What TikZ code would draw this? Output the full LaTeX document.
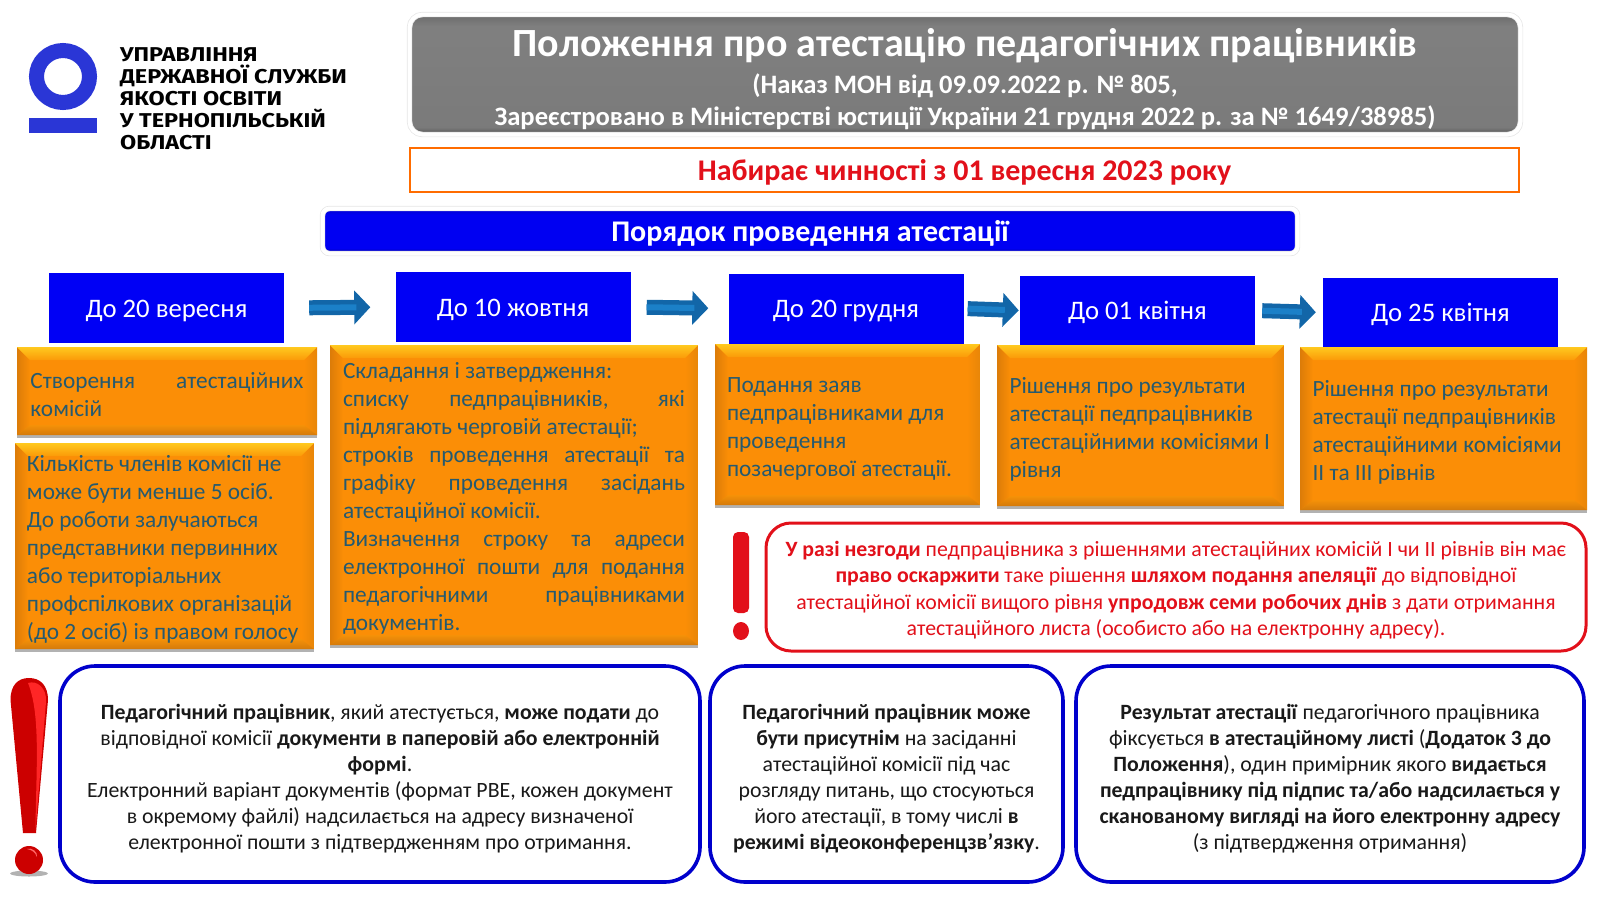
\documentclass[tikz,border=0pt]{standalone}
\usepackage{fontspec}
\setmainfont{Carlito}
\newfontfamily\logofont[FakeStretch=1.17]{Fira Sans}
\usetikzlibrary{calc, shadows, arrows.meta}
\definecolor{logoblue}{HTML}{2A36D6}
\definecolor{pureblue}{HTML}{0000F5}
\definecolor{flowblue}{HTML}{1266A8}
\definecolor{flowlight}{HTML}{1B80C8}
\definecolor{boxorange}{HTML}{FB8E06}
\definecolor{boxtext}{HTML}{255A70}
\definecolor{bevelyellow}{HTML}{FFC91F}
\definecolor{beveltop}{HTML}{FB9A08}
\definecolor{bevelleft}{HTML}{DC7C08}
\definecolor{bevelright}{HTML}{E88608}
\definecolor{bevellow}{HTML}{D47A0A}
\definecolor{bevelup}{HTML}{F59108}
\definecolor{alertred}{HTML}{E2101A}
\definecolor{noticeblue}{HTML}{0000CC}
\definecolor{bangred}{HTML}{CC0000}
\pgfdeclareverticalshading{greyplate}{100bp}{color(0bp)=(black!68); color(25bp)=(black!68); color(28bp)=(black!52); color(70bp)=(black!50); color(75bp)=(black!58); color(100bp)=(black!58)}
\pgfdeclareverticalshading{blueplate}{100bp}{color(0bp)=(blue!60!black); color(25bp)=(blue!60!black); color(31bp)=(blue!95!black); color(68bp)=(blue!95!black); color(75bp)=(blue!80!black); color(100bp)=(blue!80!black)}
\tikzset{
	titleplate/.style={
			rectangle,
			rounded corners=13pt,
			shade,
			shading=greyplate,
			draw=black!10,
			line width=0.7pt,
			double=white,
			double distance=4pt,
			text=white,
			align=center,
			inner sep=0pt,
			minimum width=1111pt,
			minimum height=120pt,
			font=\fontsize{26.6}{32}\bfseries\selectfont
		},
	bannerplate/.style={
			rectangle,
			draw=orange!85!red,
			line width=1.3pt,
			fill=white,
			text=alertred,
			inner sep=0pt,
			minimum width=1109pt,
			minimum height=44pt,
			text height=20pt,
			text depth=0pt,
			font=\fontsize{30}{34}\bfseries\selectfont
		},
	orderplate/.style={
			titleplate,
			rounded corners=7pt,
			shading=blueplate,
			minimum width=975pt,
			minimum height=45pt,
			text height=20pt,
			text depth=0pt,
			font=\fontsize{30}{34}\bfseries\selectfont
		},
	datebox/.style={
			rectangle,
			fill=pureblue,
			text=white,
			inner sep=0pt,
			minimum width=235pt,
			minimum height=70pt,
			text height=18pt,
			text depth=0pt,
			font=\fontsize{26.7}{30}\selectfont
		},
	orangebox/.style={
			rectangle,
			fill=boxorange,
			text=boxtext,
			align=left,
			inner sep=0pt,
			font=\fontsize{23.3}{28}\selectfont,
			execute at begin node={\spaceskip 0pt\xspaceskip 0pt\rule{0pt}{23.5pt}},
			drop shadow={shadow xshift=0pt, shadow yshift=-3pt, opacity=.3, fill=black},
			path picture={
				\coordinate (nw) at (path picture bounding box.north west);
				\coordinate (ne) at (path picture bounding box.north east);
				\coordinate (sw) at (path picture bounding box.south west);
				\coordinate (se) at (path picture bounding box.south east);
				\shade[left color=bevelleft, right color=boxorange] (nw) -- ++(13pt,-13pt) -- ($(sw)+(13pt,10pt)$) -- (sw) -- cycle;
				\shade[left color=boxorange, right color=bevelright] (ne) -- ++(-13pt,-13pt) -- ($(se)+(-13pt,10pt)$) -- (se) -- cycle;
				\shade[top color=bevelup, bottom color=bevellow] (sw) -- ++(13pt,10pt) -- ($(se)+(-13pt,10pt)$) -- (se) -- cycle;
				\shade[top color=bevelyellow, bottom color=beveltop] (nw) -- ++(13pt,-13pt) -- ($(ne)+(-13pt,-13pt)$) -- (ne) -- cycle;
			}
		},
	roundbox/.style={
			rectangle,
			fill=white,
			align=center,
			inner sep=0pt
		},
	noticebox/.style={
			roundbox,
			rounded corners=35pt,
			draw=noticeblue,
			line width=3.6pt,
			text=black!90,
			execute at begin node={\spaceskip 0.226em\xspaceskip 0pt\rule{0pt}{24.5pt}},
			font=\fontsize{21.8}{25.9}\selectfont
		},
	alertbox/.style={
			roundbox,
			rounded corners=25pt,
			draw=alertred,
			line width=3pt,
			text=alertred,
			execute at begin node={\spaceskip 0.226em\xspaceskip 0pt\rule{0pt}{21.5pt}},
			font=\fontsize{21.8}{26.2}\selectfont
		},
	logotext/.style={
			align=left,
			inner sep=0pt,
			font=\logofont\bfseries\fontsize{20}{22}\selectfont
		},
	flowarrow/.style 2 args={
			draw=flowblue,
			line width=15pt,
			-{Triangle[length=16pt,width=33pt]},
			shorten <=#1,
			shorten >=#2,
			postaction={draw=flowlight, line width=6pt, -, shorten >=#2+14pt}
		}
}
\newcommand{\jline}[1]{\makebox[\hsize][s]{#1}\\}

\begin{document}
\begin{tikzpicture}[x=1pt, y=-1pt]
	\useasboundingbox (0,0) rectangle (1600,900);

	% logo
	\draw[logoblue, line width=15pt] (63,76.5) ellipse (26.5pt and 26pt);
	\fill[logoblue] (29,118) rectangle (97,133);
	\node[logotext, anchor=north west] at (120,47) (logo) {УПРАВЛІННЯ\\ДЕРЖАВНОЇ СЛУЖБИ\\ЯКОСТІ ОСВІТИ\\У ТЕРНОПІЛЬСЬКІЙ\\ОБЛАСТІ};

	% header
	\node[titleplate, text width=1100pt, execute at begin node={\spaceskip 0.226em\xspaceskip 0pt\rule{0pt}{38pt}}] at (965,74.5) (title) {{\fontsize{40}{42}\selectfont\spaceskip 0.226em\relax Положення про атестацію педагогічних працівників}\\[5pt]
		(Наказ МОН від 09.09.2022 р. № 805,\\
		Зареєстровано в Міністерстві юстиції України 21 грудня 2022 р. за № 1649/38985)};
	\node[bannerplate] at (964.5,170) (banner) {Набирає чинності з 01 вересня 2023 року};
	\node[orderplate] at (810,231) (order) {Порядок проведення атестації};

	% dates
	\node[datebox] at (166.5,308) (date1) {До 20 вересня};
	\node[datebox] at (513,307) (date2) {До 10 жовтня};
	\node[datebox] at (846,308.5) (date3) {До 20 грудня};
	\node[datebox] at (1137.5,310.5) (date4) {До 01 квітня};
	\node[datebox] at (1440.5,312.5) (date5) {До 25 квітня};
	\draw[flowarrow={25pt}{25pt}] (date1.east) -- (date2.west);
	\draw[flowarrow={16pt}{20pt}] (date2.east) -- (date3.west);
	\draw[flowarrow={4pt}{1pt}] (date3.east) -- (date4.west);
	\draw[flowarrow={7pt}{7pt}] (date4.east) -- (date5.west);

	% steps
	\node[orangebox, minimum width=300pt, minimum height=88pt, text width=273pt] at (167,391) (commission) {\jline{Створення атестаційних}комісій};
	\node[orangebox, minimum width=299pt, minimum height=206pt, text width=275pt] at (164.5,546) (members) {Кількість членів комісії не\\може бути менше 5 осіб.\\До роботи залучаються\\представники первинних\\або територіальних\\профспілкових організацій\\(до 2 осіб) із правом голосу};
	\node[orangebox, minimum width=368pt, minimum height=300pt, text width=342pt] at (514,495) (lists) {Складання і затвердження:\\\jline{списку педпрацівників, які}підлягають черговій атестації;\\\jline{строків проведення атестації та}\jline{графіку проведення засідань}атестаційної комісії.\\\jline{Визначення строку та адреси}\jline{електронної пошти для подання}\jline{педагогічними працівниками}документів.};
	\node[orangebox, minimum width=265pt, minimum height=161pt, text width=241pt] at (847.5,424.5) (claims) {Подання заяв\\педпрацівниками для\\проведення\\позачергової атестації.};
	\node[orangebox, minimum width=287pt, minimum height=161pt, text width=262pt] at (1140.5,425.5) (firstlevel) {Рішення про результати\\атестації педпрацівників\\атестаційними комісіями І\\рівня};
	\node[orangebox, minimum width=287pt, minimum height=163pt, text width=262pt] at (1443.5,428.5) (upperlevel) {Рішення про результати\\атестації педпрацівників\\атестаційними комісіями\\ІІ та ІІІ рівнів};

	% appeal
	\fill[alertred, rounded corners=5pt] (733,532) rectangle (749,613);
	\fill[alertred] (741,631) ellipse (8pt and 9pt);
	\node[alertbox, minimum width=820pt, minimum height=128pt, text width=810pt] at (1176,587) (appeal) {\textbf{У разі незгоди} педпрацівника з рішеннями атестаційних комісій І чи ІІ рівнів він має\\\textbf{право оскаржити} таке рішення \textbf{шляхом подання апеляції} до відповідної\\атестаційної комісії вищого рівня \textbf{упродовж семи робочих днів} з дати отримання\\атестаційного листа (особисто або на електронну адресу).};

	% big exclamation mark
	\fill[black!30] (29,873.5) ellipse (19pt and 3pt);
	\fill[bangred] (23,833) -- (10.5,700) .. controls (10.5,685) and (18,678) .. (29,678) .. controls (40,678) and (48,685) .. (48,700) -- (36,833) -- cycle;
	\fill[red!85!white] (28,683) .. controls (37,680) and (47,688) .. (46,702) -- (35.5,830) .. controls (36,770) and (41,715) .. (28,683) -- cycle;
	\fill[bangred] (29,860) circle (14pt);
	\fill[red!60!white] (27,849) .. controls (32,847) and (38,852) .. (37,857) .. controls (35,852) and (32,850) .. (27,849) -- cycle;

	% notes
	\node[noticebox, minimum width=640pt, minimum height=216pt, text width=620pt] at (380,774) (docs) {\textbf{Педагогічний працівник}, який атестується, \textbf{може подати} до\\відповідної комісії \textbf{документи в паперовій або електронній}\\\textbf{формі}.\\Електронний варіант документів (формат PBE, кожен документ\\в окремому файлі) надсилається на адресу визначеної\\електронної пошти з підтвердженням про отримання.};
	\node[noticebox, minimum width=353pt, minimum height=216pt, text width=340pt] at (886.5,774) (presence) {\textbf{Педагогічний працівник може}\\\textbf{бути присутнім} на засіданні\\атестаційної комісії під час\\розгляду питань, що стосуються\\його атестації, в тому числі \textbf{в}\\\textbf{режимі відеоконференцзв’язку}.};
	\node[noticebox, minimum width=508pt, minimum height=216pt, text width=495pt] at (1330,774) (result) {\textbf{Результат атестації} педагогічного працівника\\фіксується \textbf{в атестаційному листі} (\textbf{Додаток 3 до}\\\textbf{Положення}), один примірник якого \textbf{видається}\\\textbf{педпрацівнику під підпис та/або надсилається у}\\\textbf{сканованому вигляді на його електронну адресу}\\(з підтвердження отримання)};
\end{tikzpicture}
\end{document}
